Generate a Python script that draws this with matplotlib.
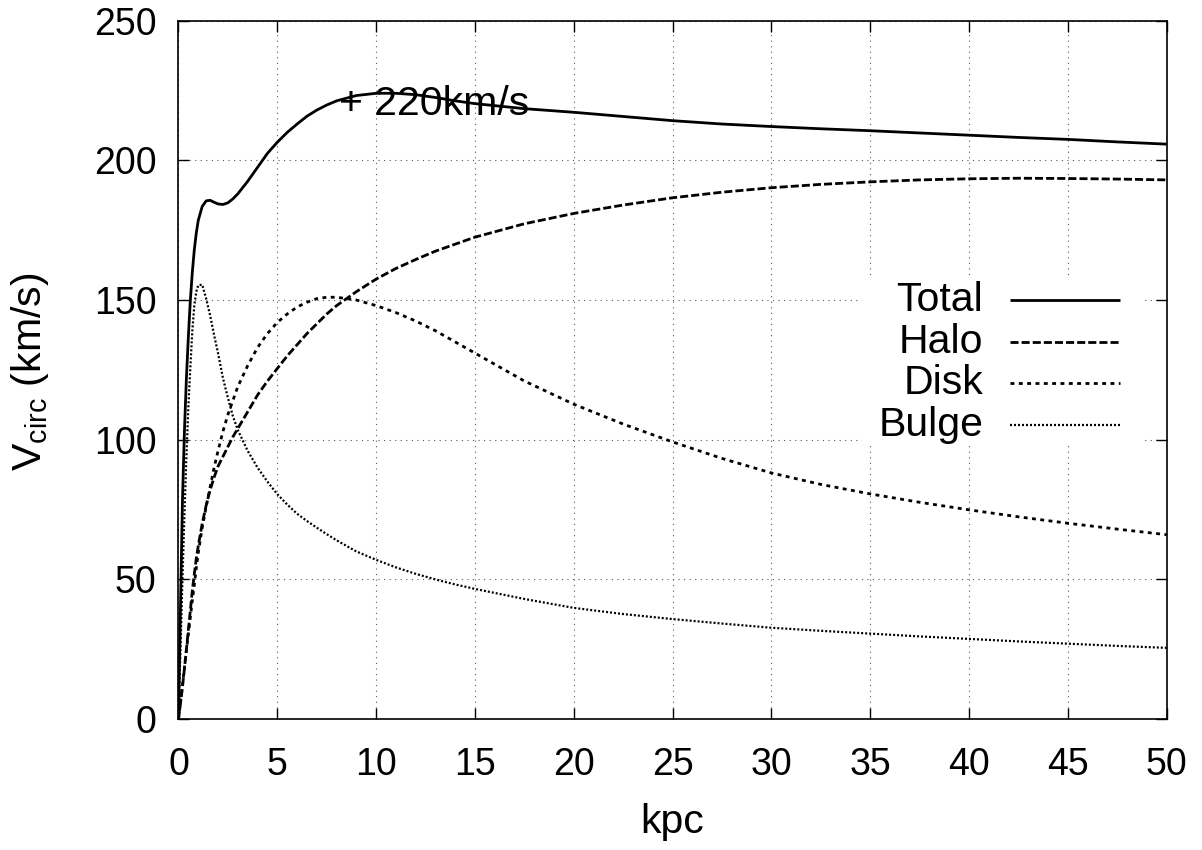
import numpy as np
import matplotlib.pyplot as plt
from matplotlib.patches import Rectangle

plt.rcParams['font.family'] = ['Liberation Sans', 'DejaVu Sans']
plt.rcParams['font.size'] = 27
label_size = 29.5

# radius in kpc
r = [0, 0.1, 0.2, 0.3, 0.4, 0.5, 0.6, 0.7, 0.8, 0.9, 1.0, 1.2, 1.4, 1.6, 1.8, 2.0,
     2.25, 2.5, 2.75, 3.0, 3.5, 4, 4.5, 5, 5.5, 6, 6.5, 7, 7.5, 8, 9, 10, 11, 12, 13, 14, 15,
     17.5, 20, 22.5, 25, 27.5, 30, 32.5, 35, 37.5, 40, 42.5, 45, 47.5, 50]

# circular velocities, km/s
v_total = [0, 40, 78, 103, 122, 137, 150, 160, 168, 174, 178.5, 183.5, 185.5, 185.7, 185, 184.4,
           184.2, 184.8, 186.2, 188, 192.5, 197.5, 202.5, 206.5, 210, 213, 215.8, 218, 219.8, 221.3,
           223.2, 224, 224, 223.5, 222.5, 221.3, 220.3,
           218.5, 217.2, 215.7, 214.2, 213, 212.1, 211.3, 210.6, 209.8, 209, 208.2, 207.5, 206.6, 205.8]
v_halo = [0, 5.5, 11.5, 18, 25, 32, 39, 46, 52, 57.5, 62, 70, 76.5, 82, 86.5, 90.5,
          94, 97.5, 101, 104, 110, 116, 121, 125.5, 130, 134, 138, 141.5, 145, 148,
          153, 157.5, 161.3, 164.5, 167.5, 170, 172.5,
          177.3, 181, 184, 186.6, 188.6, 190.2, 191.4, 192.3, 193, 193.4, 193.6, 193.5, 193.3, 193]
v_disk = [0, 6, 12, 18.5, 24.5, 30.5, 36.5, 42.5, 48, 54, 59.5, 68.5, 76, 83, 90, 96,
          103, 109, 114, 119, 126.5, 133, 138, 142, 145, 147.5, 149.2, 150.5, 151, 151,
          150, 148, 145.5, 142.5, 139, 135, 131,
          121, 112.7, 105.6, 99.2, 93.3, 88.1, 84.0, 80.6, 77.6, 74.9, 72.4, 70.1, 68, 66]
v_bulge = [0, 25, 50, 73, 94, 112, 126, 139, 148, 153, 155.3, 155.5, 150.5, 144.5, 137.5, 131,
           122, 115, 108.5, 103.5, 96, 90, 85, 80.5, 76.8, 73.5, 70.9, 68.5, 66.2, 64,
           60, 57, 54.3, 52, 50, 48.2, 46.6,
           43, 39.8, 37.6, 35.8, 34.2, 32.7, 31.6, 30.6, 29.6, 28.7, 27.8, 27, 26.2, 25.5]

names = ['Total', 'Halo', 'Disk', 'Bulge']
curves = [v_total, v_halo, v_disk, v_bulge]
styles = [dict(lw=2.0, ls='-'),
          dict(lw=2.0, ls=(0, (2.9, 1.1))),
          dict(lw=2.0, ls=(0, (1.4, 1.6))),
          dict(lw=1.6, ls=(0, (0.9, 0.9)))]

sun_r, sun_v = 8.1, 220

fig = plt.figure(figsize=(12.02, 8.5), dpi=100)
ax = fig.add_axes([0.1485, 0.154, 0.8222, 0.8217])

for v, st in zip(curves, styles):
    ax.plot(r, v, color='black', solid_capstyle='butt', dash_capstyle='butt',
            solid_joinstyle='round', **st)

ax.text(sun_r, sun_v, '+ 220km/s', ha='left', va='center', fontsize=label_size)

ax.set_xlim(0, 50)
ax.set_ylim(0, 250)
ax.set_xticks(np.arange(0, 51, 5))
ax.set_yticks(np.arange(0, 251, 50))
ax.grid(True, color='0.35', lw=0.8, ls=(0, (1, 4)))
ax.set_axisbelow(True)
ax.tick_params(direction='in', length=8, width=1, top=True, right=True)
ax.tick_params(axis='x', pad=20)
ax.tick_params(axis='y', pad=16)
for s in ax.spines.values():
    s.set_linewidth(1.2)

# key, drawn gnuplot style: labels right-aligned, samples on the right
ax.add_patch(Rectangle((0.6917, 0.392), 0.2843, 0.238, transform=ax.transAxes,
                       facecolor='white', edgecolor='none', zorder=1.5))
for i, (name, st) in enumerate(zip(names, styles)):
    yk = 0.600 - i * 0.0597
    ax.text(0.8144, yk, name, transform=ax.transAxes, ha='right', va='center',
            fontsize=label_size, zorder=3)
    ax.plot([0.8414, 0.9527], [yk, yk], transform=ax.transAxes, color='black',
            solid_capstyle='butt', dash_capstyle='butt', zorder=3, **st)

fig.text(30 / 1202, 1 - 372 / 850, r'$\mathregular{V_{circ}}$ (km/s)', rotation=90,
         ha='center', va='center', fontsize=label_size)
fig.text(672 / 1202, 1 - 822 / 850, 'kpc', ha='center', va='center', fontsize=label_size)

fig.savefig('out.png', dpi=100)
